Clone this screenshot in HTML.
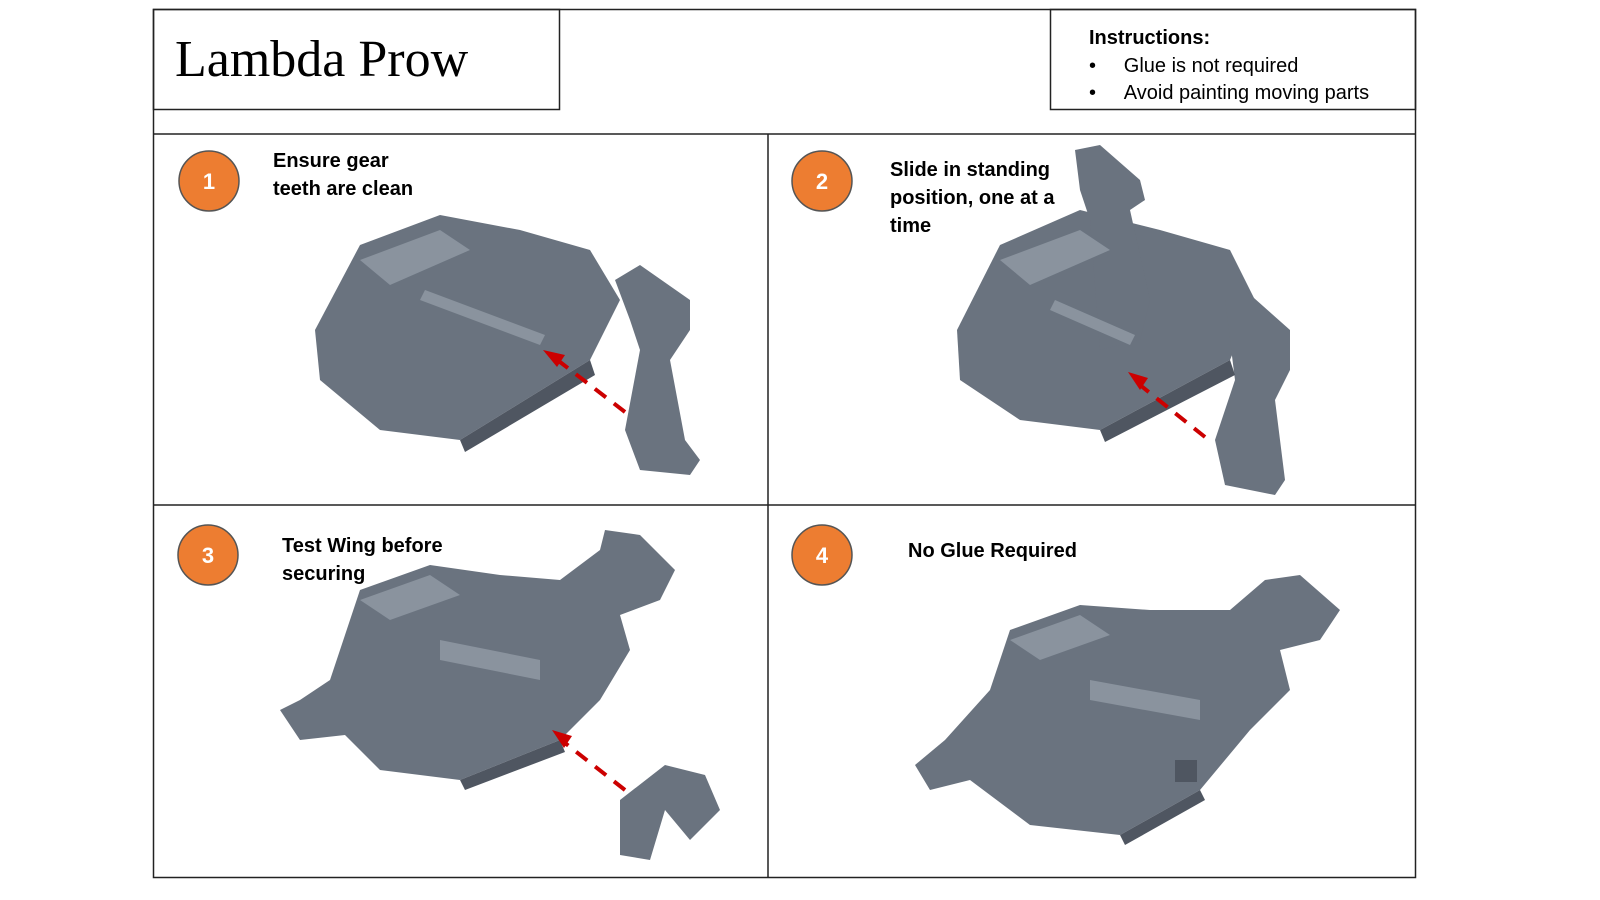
<!DOCTYPE html>
<html><head><meta charset="utf-8"><style>
body{margin:0;width:1600px;height:900px;background:#fff;position:relative;overflow:hidden;font-family:"Liberation Sans",sans-serif}
.t{position:absolute;font-size:20px;color:#000;line-height:28px}
</style></head><body>
<svg width="1600" height="900" style="position:absolute;left:0;top:0">
<g fill="none" stroke="#222" stroke-width="1.5">
<rect x="153.5" y="9.5" width="1262" height="868"/>
<rect x="153.5" y="9.5" width="406" height="100"/>
<rect x="1050.5" y="9.5" width="365" height="100"/>
<line x1="153" y1="134" x2="1415" y2="134"/>
<line x1="768" y1="134" x2="768" y2="877"/>
<line x1="153" y1="505" x2="1415" y2="505"/>
</g>
<g fill="#ED7D31" stroke="#555" stroke-width="1.5">
<circle cx="209" cy="181" r="30"/><circle cx="822" cy="181" r="30"/>
<circle cx="208" cy="555" r="30"/><circle cx="822" cy="555" r="30"/>
</g>
<g fill="#fff" font-family="Liberation Sans" font-weight="bold" font-size="22" text-anchor="middle">
<text x="209" y="189">1</text><text x="822" y="189">2</text><text x="208" y="563">3</text><text x="822" y="563">4</text>
</g>
<g fill="#6a737f">
<path d="M315 330 L360 245 L440 215 L520 230 L590 250 L620 300 L590 360 L460 440 L380 430 L320 380Z"/>
<path d="M615 280 L640 265 L690 300 L690 330 L670 360 L685 440 L700 460 L690 475 L640 470 L625 430 L640 350 L630 320Z"/>
<path d="M957 330 L1000 245 L1080 210 L1160 230 L1230 250 L1255 300 L1230 360 L1100 430 L1020 420 L960 380Z"/>
<path d="M1075 150 L1100 145 L1140 180 L1145 200 L1130 210 L1150 300 L1140 340 L1100 350 L1090 220 L1080 190Z"/>
<path d="M1225 300 L1245 290 L1290 330 L1290 370 L1275 400 L1285 480 L1275 495 L1225 485 L1215 440 L1235 380Z"/>
<path d="M330 680 L360 590 L430 565 L500 575 L560 580 L600 550 L605 530 L640 535 L675 570 L660 600 L620 615 L630 650 L600 700 L560 740 L460 780 L380 770 L345 735 L300 740 L280 710 L300 700Z"/>
<path d="M620 800 L665 765 L705 775 L720 810 L690 840 L665 810 L650 860 L620 855Z"/>
<path d="M990 690 L1010 630 L1080 605 L1150 610 L1230 610 L1265 580 L1300 575 L1340 610 L1320 640 L1280 650 L1290 690 L1250 730 L1200 790 L1120 835 L1030 825 L970 780 L930 790 L915 765 L945 740Z"/>
</g>
<g fill="#8a939e">
<path d="M360 260 L440 230 L470 250 L390 285Z"/><path d="M420 300 L540 345 L545 335 L425 290Z"/>
<path d="M1000 260 L1080 230 L1110 250 L1030 285Z"/><path d="M1050 310 L1130 345 L1135 335 L1055 300Z"/>
<path d="M360 600 L430 575 L460 595 L390 620Z"/><path d="M440 640 L540 660 L540 680 L440 660Z"/>
<path d="M1010 640 L1080 615 L1110 635 L1040 660Z"/><path d="M1090 680 L1200 700 L1200 720 L1090 700Z"/>
</g>
<g fill="#4f5661">
<path d="M460 440 L590 360 L595 375 L465 452Z"/><path d="M1100 430 L1230 360 L1235 375 L1105 442Z"/>
<path d="M460 780 L560 740 L565 752 L465 790Z"/><path d="M1120 835 L1200 790 L1205 800 L1125 845Z"/>
<rect x="1175" y="760" width="22" height="22"/>
</g>
<g stroke="#c00" stroke-width="4" stroke-dasharray="14 10" fill="none">
<line x1="625" y1="412" x2="560" y2="362"/>
<line x1="1205" y1="437" x2="1140" y2="385"/>
<line x1="625" y1="790" x2="565" y2="743"/>
</g>
<g fill="#c00">
<polygon points="543,350 565,355 557,367"/><polygon points="1128,372 1148,378 1140,390"/><polygon points="552,730 572,736 564,748"/>
</g>
</svg>
<div style="position:absolute;left:175px;top:30px;font-family:'Liberation Serif',serif;font-size:52px;line-height:60px">Lambda Prow</div>
<div class="t" style="left:1089px;top:24px;font-weight:bold">Instructions:</div>
<div class="t" style="left:1089px;top:52px">•&nbsp;&nbsp;&nbsp;&nbsp;&nbsp;Glue is not required</div>
<div class="t" style="left:1089px;top:79px">•&nbsp;&nbsp;&nbsp;&nbsp;&nbsp;Avoid painting moving parts</div>
<div class="t" style="left:273px;top:147px;font-weight:bold">Ensure gear<br>teeth are clean</div>
<div class="t" style="left:890px;top:156px;font-weight:bold">Slide in standing<br>position, one at a<br>time</div>
<div class="t" style="left:282px;top:532px;font-weight:bold">Test Wing before<br>securing</div>
<div class="t" style="left:908px;top:537px;font-weight:bold">No Glue Required</div>
</body></html>
